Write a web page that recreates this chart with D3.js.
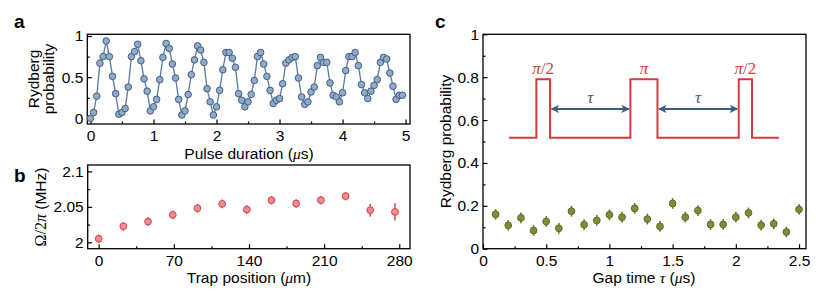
<!DOCTYPE html>
<html>
<head>
<meta charset="utf-8">
<script src="https://cdn.jsdelivr.net/npm/d3@7"></script>
<style>
  body { margin: 0; background: #fff; }
  svg text { font-family: Helvetica, "Liberation Sans", Arial, sans-serif; fill: #000; }
  .tick text { font-size: 15.5px; }
</style>
</head>
<body>
<svg width="831" height="301"></svg>
<script>
// panel a: Rabi oscillation
var rabiT = [0, 0.05, 0.1, 0.15, 0.2, 0.25, 0.3, 0.35, 0.4, 0.45,
    0.5, 0.55, 0.6, 0.65, 0.7, 0.75, 0.8, 0.85, 0.9, 0.95,
    1, 1.05, 1.1, 1.15, 1.2, 1.25, 1.3, 1.35, 1.4, 1.45,
    1.5, 1.55, 1.6, 1.65, 1.7, 1.75, 1.8, 1.85, 1.9, 1.95,
    2, 2.05, 2.1, 2.15, 2.2, 2.25, 2.3, 2.35, 2.4, 2.45,
    2.5, 2.55, 2.6, 2.65, 2.7, 2.75, 2.8, 2.85, 2.9, 2.95,
    3, 3.05, 3.1, 3.15, 3.2, 3.25, 3.3, 3.35, 3.4, 3.45,
    3.5, 3.55, 3.6, 3.65, 3.7, 3.75, 3.8, 3.85, 3.9, 3.95,
    4, 4.05, 4.1, 4.15, 4.2, 4.25, 4.3, 4.35, 4.4, 4.45,
    4.5, 4.55, 4.6, 4.65, 4.7, 4.75, 4.8, 4.85, 4.9, 4.95];
var rabiP = [0, 0.07, 0.27, 0.67, 0.75, 0.94, 0.75, 0.51, 0.30, 0.05,
    0.07, 0.12, 0.38, 0.75, 0.81, 0.90, 0.70, 0.48, 0.33, 0.09,
    0.14, 0.23, 0.47, 0.74, 0.91, 0.85, 0.66, 0.49, 0.23, 0.04,
    0.09, 0.29, 0.53, 0.71, 0.88, 0.83, 0.68, 0.36, 0.20, 0.04,
    0.14, 0.34, 0.59, 0.80, 0.80, 0.73, 0.62, 0.30, 0.22, 0.14,
    0.20, 0.29, 0.46, 0.75, 0.80, 0.66, 0.51, 0.34, 0.18, 0.22,
    0.24, 0.42, 0.67, 0.71, 0.74, 0.75, 0.49, 0.26, 0.17, 0.20,
    0.32, 0.38, 0.64, 0.74, 0.68, 0.68, 0.43, 0.28, 0.26, 0.20,
    0.31, 0.58, 0.75, 0.75, 0.80, 0.64, 0.41, 0.31, 0.24, 0.33,
    0.40, 0.47, 0.68, 0.74, 0.72, 0.55, 0.39, 0.23, 0.28, 0.28];

// panel b: Rabi frequency vs trap position
var trapPos = [0, 23, 46, 69, 92, 115, 138, 161, 184, 207, 230, 253, 276];
var rabiFreq = [2.005, 2.0226, 2.0292, 2.0387, 2.0481, 2.0542, 2.0462, 2.0594, 2.0547, 2.0594, 2.0651, 2.0453, 2.0429];
var rabiFreqErr = [0.006, 0.006, 0.006, 0.006, 0.006, 0.006, 0.006, 0.006, 0.006, 0.006, 0.006, 0.009, 0.012];

// panel c: spin echo
var gapT = [0.1, 0.2, 0.3, 0.4, 0.5, 0.6, 0.7, 0.8, 0.9, 1.0, 1.1, 1.2, 1.3,
    1.4, 1.5, 1.6, 1.7, 1.8, 1.9, 2.0, 2.1, 2.2, 2.3, 2.4, 2.5];
var echoP = [0.160, 0.109, 0.144, 0.085, 0.127, 0.095, 0.175, 0.112, 0.132, 0.158, 0.147, 0.188, 0.138,
    0.104, 0.211, 0.147, 0.178, 0.113, 0.113, 0.147, 0.167, 0.110, 0.116, 0.078, 0.183];
var echoErr = [0.025, 0.025, 0.025, 0.025, 0.025, 0.025, 0.025, 0.025, 0.025, 0.025, 0.025, 0.025, 0.025,
    0.025, 0.025, 0.025, 0.025, 0.025, 0.025, 0.025, 0.025, 0.025, 0.025, 0.025, 0.025];

// pulse sequence sketch (in panel c data units)
var pulseRise = [0.422, 1.166, 2.023];
var pulseFall = [0.530, 1.380, 2.128];
var pulseNames = ["π/2", "π", "π/2"];
var pulseSpan = [0.206, 2.342];
var pulseLow = 0.518, pulseHigh = 0.790, arrowLevel = 0.652;

var SERIF = "'Liberation Serif', 'DejaVu Serif', serif";
var LABEL = "15.5px";

var svg = d3.select("svg");

function frame(x, y, xMajor, xMinor, yMajor, yMinor, xFmt, yFmt) {
    var g = svg.append("g");
    var x0 = x.range()[0], x1 = x.range()[1], y0 = y.range()[0], y1 = y.range()[1];

    g.append("g").attr("transform", "translate(0," + y0 + ")")
        .call(d3.axisBottom(x).tickValues(xMinor).tickSize(-2.5).tickFormat(""));
    g.append("g").attr("transform", "translate(0," + y0 + ")")
        .call(d3.axisBottom(x).tickValues(xMajor).tickSize(-4.5).tickPadding(6).tickFormat(xFmt));
    g.append("g").attr("transform", "translate(" + x0 + ",0)")
        .call(d3.axisLeft(y).tickValues(yMinor).tickSize(-2.5).tickFormat(""));
    g.append("g").attr("transform", "translate(" + x0 + ",0)")
        .call(d3.axisLeft(y).tickValues(yMajor).tickSize(-4.5).tickPadding(4).tickFormat(yFmt));

    g.selectAll(".domain").remove();
    g.selectAll(".tick line").attr("stroke", "#000").attr("stroke-width", 1.2);

    svg.append("rect")
        .attr("x", x0).attr("y", y1)
        .attr("width", x1 - x0).attr("height", y0 - y1)
        .attr("fill", "none").attr("stroke", "#000").attr("stroke-width", 1.3);
    return g;
}

function panelLabel(t, px, py) {
    svg.append("text").attr("x", px).attr("y", py)
        .style("font-size", "19px").style("font-weight", "bold").text(t);
}

function mu(sel) {
    sel.append("tspan").style("font-family", SERIF).style("font-style", "italic").text("μ");
}

// ---------- a ----------
var xa = d3.scaleLinear().domain([-0.05, 5.07]).range([87.3, 410]),
    ya = d3.scaleLinear().domain([-0.069, 1.021]).range([124, 34.3]);

frame(xa, ya, [0, 1, 2, 3, 4, 5], [0.5, 1.5, 2.5, 3.5, 4.5], [0, 0.5, 1], [0.25, 0.75],
    d3.format("d"), function (d) { return d === 0.5 ? "0.5" : d3.format("d")(d); });

svg.append("path")
    .datum(d3.range(rabiT.length))
    .attr("fill", "none").attr("stroke", "#5b79a6").attr("stroke-width", 1.3)
    .attr("d", d3.line().x(function (i) { return xa(rabiT[i]); }).y(function (i) { return ya(rabiP[i]); }));

svg.selectAll(".pt-a")
    .data(d3.range(rabiT.length))
    .enter().append("circle")
    .attr("class", "pt-a")
    .attr("cx", function (i) { return xa(rabiT[i]); })
    .attr("cy", function (i) { return ya(rabiP[i]); })
    .attr("r", 3.3)
    .attr("fill", "#91aac6").attr("stroke", "#3f5f86").attr("stroke-width", 1);

svg.append("text").attr("transform", "translate(39,79) rotate(-90)")
    .attr("text-anchor", "middle").style("font-size", LABEL).text("Rydberg");
svg.append("text").attr("transform", "translate(54,79) rotate(-90)")
    .attr("text-anchor", "middle").style("font-size", LABEL).text("probability");

var la = svg.append("text").attr("x", 249).attr("y", 159).attr("text-anchor", "middle").style("font-size", LABEL);
la.append("tspan").text("Pulse duration (");
mu(la);
la.append("tspan").text("s)");

panelLabel("a", 14, 28);

// ---------- b ----------
var xb = d3.scaleLinear().domain([-10.2, 290]).range([87.7, 410]),
    yb = d3.scaleLinear().domain([1.991, 2.109]).range([248.7, 165]);

frame(xb, yb, [0, 70, 140, 210, 280], [35, 105, 175, 245], [2, 2.05, 2.1], [2.025, 2.075],
    d3.format("d"), function (d) { return d === 2 ? "2" : String(+d.toFixed(2)); });

svg.selectAll(".err-b")
    .data(d3.range(trapPos.length))
    .enter().append("line")
    .attr("class", "err-b")
    .attr("x1", function (i) { return xb(trapPos[i]); })
    .attr("x2", function (i) { return xb(trapPos[i]); })
    .attr("y1", function (i) { return yb(rabiFreq[i] - rabiFreqErr[i]); })
    .attr("y2", function (i) { return yb(rabiFreq[i] + rabiFreqErr[i]); })
    .attr("stroke", "#d9454a").attr("stroke-width", 1.5);

svg.selectAll(".pt-b")
    .data(d3.range(trapPos.length))
    .enter().append("circle")
    .attr("class", "pt-b")
    .attr("cx", function (i) { return xb(trapPos[i]); })
    .attr("cy", function (i) { return yb(rabiFreq[i]); })
    .attr("r", 3.4)
    .attr("fill", "#ec8e90").attr("stroke", "#d4404a").attr("stroke-width", 1);

var lby = svg.append("text").attr("transform", "translate(46,207) rotate(-90)")
    .attr("text-anchor", "middle").style("font-size", LABEL);
lby.append("tspan").style("font-family", SERIF).style("font-size", "16px").text("Ω/2");
lby.append("tspan").style("font-family", SERIF).style("font-style", "italic").style("font-size", "16px").text("π");
lby.append("tspan").text(" (MHz)");

var lbx = svg.append("text").attr("x", 249).attr("y", 283).attr("text-anchor", "middle").style("font-size", LABEL);
lbx.append("tspan").text("Trap position (");
mu(lbx);
lbx.append("tspan").text("m)");

panelLabel("b", 14, 182);

// ---------- c ----------
var xc = d3.scaleLinear().domain([0, 2.555]).range([483, 806]),
    yc = d3.scaleLinear().domain([0, 1]).range([248.7, 34.3]);

frame(xc, yc, [0, 0.5, 1, 1.5, 2, 2.5], [0.25, 0.75, 1.25, 1.75, 2.25], [0, 0.2, 0.4, 0.6, 0.8, 1], [0.1, 0.3, 0.5, 0.7, 0.9],
    function (d) { return String(d); }, function (d) { return String(d); });

// pulse sequence
var pulsePts = [[pulseSpan[0], pulseLow]];
pulseRise.forEach(function (r, i) {
    pulsePts.push([r, pulseLow], [r, pulseHigh], [pulseFall[i], pulseHigh], [pulseFall[i], pulseLow]);
});
pulsePts.push([pulseSpan[1], pulseLow]);

svg.append("path")
    .datum(pulsePts)
    .attr("fill", "none").attr("stroke", "#d33b3d").attr("stroke-width", 2)
    .attr("d", d3.line().x(function (d) { return xc(d[0]); }).y(function (d) { return yc(d[1]); }));

svg.selectAll(".pulse-name")
    .data(pulseRise)
    .enter().append("text")
    .attr("class", "pulse-name")
    .attr("x", function (d, i) { return (xc(d) + xc(pulseFall[i])) / 2; })
    .attr("y", yc(pulseHigh) - 5)
    .attr("text-anchor", "middle")
    .style("font-family", SERIF).style("font-size", "17px")
    .style("fill", "#d33b3d")
    .each(function (d, i) {
        var parts = pulseNames[i].split("/");
        d3.select(this).append("tspan").style("font-style", "italic").text(parts[0]);
        if (parts.length > 1) d3.select(this).append("tspan").text("/" + parts[1]);
    });

svg.append("defs").append("marker")
    .attr("id", "head").attr("viewBox", "0 0 10 10").attr("refX", 9).attr("refY", 5)
    .attr("markerWidth", 4.2).attr("markerHeight", 4.2).attr("markerUnits", "strokeWidth")
    .attr("orient", "auto-start-reverse")
    .append("path").attr("d", "M0,0 L10,5 L0,10 L2.5,5 Z").attr("fill", "#3d5e80");

var gaps = [0, 1];
svg.selectAll(".gap-arrow")
    .data(gaps)
    .enter().append("line")
    .attr("class", "gap-arrow")
    .attr("x1", function (i) { return xc(pulseFall[i]) + 1.5; })
    .attr("x2", function (i) { return xc(pulseRise[i + 1]) - 1.5; })
    .attr("y1", yc(arrowLevel)).attr("y2", yc(arrowLevel))
    .attr("stroke", "#3d5e80").attr("stroke-width", 2)
    .attr("marker-start", "url(#head)").attr("marker-end", "url(#head)");

svg.selectAll(".gap-name")
    .data(gaps)
    .enter().append("text")
    .attr("class", "gap-name")
    .attr("x", function (i) { return (xc(pulseFall[i]) + xc(pulseRise[i + 1])) / 2; })
    .attr("y", yc(arrowLevel) - 6)
    .attr("text-anchor", "middle")
    .style("font-family", SERIF).style("font-style", "italic")
    .style("font-size", "17px").style("fill", "#3d5e80")
    .text("τ");

svg.selectAll(".err-c")
    .data(d3.range(gapT.length))
    .enter().append("line")
    .attr("class", "err-c")
    .attr("x1", function (i) { return xc(gapT[i]); })
    .attr("x2", function (i) { return xc(gapT[i]); })
    .attr("y1", function (i) { return yc(echoP[i] - echoErr[i]); })
    .attr("y2", function (i) { return yc(echoP[i] + echoErr[i]); })
    .attr("stroke", "#6a7a2a").attr("stroke-width", 1.6);

svg.selectAll(".pt-c")
    .data(d3.range(gapT.length))
    .enter().append("circle")
    .attr("class", "pt-c")
    .attr("cx", function (i) { return xc(gapT[i]); })
    .attr("cy", function (i) { return yc(echoP[i]); })
    .attr("r", 3.4)
    .attr("fill", "#7f8d3b").attr("stroke", "#5d6b24").attr("stroke-width", 1);

svg.append("text").attr("transform", "translate(451,141.5) rotate(-90)")
    .attr("text-anchor", "middle").style("font-size", LABEL).text("Rydberg probability");

var lcx = svg.append("text").attr("x", 644).attr("y", 283).attr("text-anchor", "middle").style("font-size", LABEL);
lcx.append("tspan").text("Gap time ");
lcx.append("tspan").style("font-family", SERIF).style("font-style", "italic").text("τ");
lcx.append("tspan").text(" (");
mu(lcx);
lcx.append("tspan").text("s)");

panelLabel("c", 435, 28);
</script>
</body>
</html>
